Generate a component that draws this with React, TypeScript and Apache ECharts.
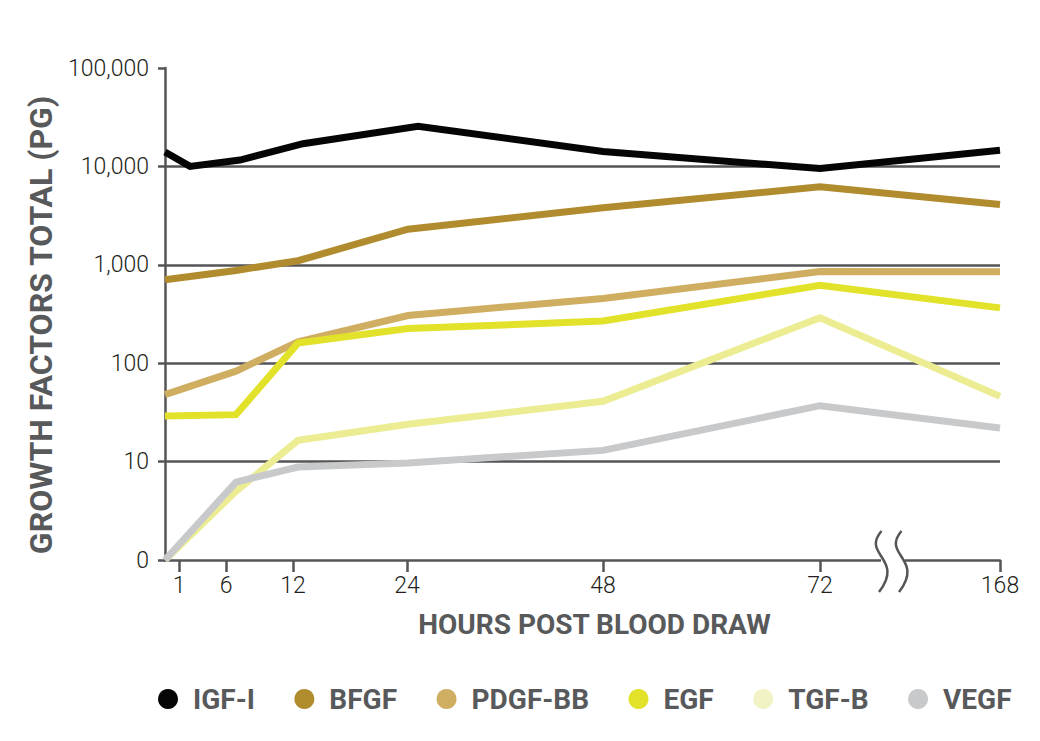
import React, { useEffect, useRef } from "react";
import * as echarts from "echarts";

// Axis positions (in axis units along the drawn time axis; the axis is broken between 72 and 168 h)
const xTickLabels = ["1", "6", "12", "24", "48", "72", "168"];
const xTickPos = [14, 61, 128, 242, 438, 655, 835];
const breakPos = 728;

// Sampling positions along the time axis: 0, 6, 12, 24, 48, 72, 168 h
const samplePos = [0, 71, 133, 243, 438, 655, 835];
const igfPos = [0, 25, 75, 138, 253, 438, 655, 835];

const seriesNames = ["IGF-I", "BFGF", "PDGF-BB", "EGF", "TGF-B", "VEGF"];
const lineColors = ["#050505", "#b08c2e", "#cfae62", "#e2e22a", "#ecec92", "#c8c9cb"];
const legendColors = ["#050505", "#b08c2e", "#cfae62", "#e2e22a", "#f2f3c4", "#c8c9cb"];

const igfValues = [14000, 10000, 11600, 17000, 25500, 14200, 9500, 14600];
const bfgfValues = [705, 876, 1100, 2300, 3800, 6200, 4100];
const pdgfValues = [48, 83, 165, 305, 455, 855, 850];
const egfValues = [29, 30, 160, 225, 268, 620, 365];
const tgfbValues = [1, 5, 16.5, 24, 41, 290, 46];
const vegfValues = [1, 6.2, 8.8, 9.7, 13, 37, 22];

const yMin = 1;
const yMax = 100000;

const pair = (pos: number[], vals: number[]) => vals.map((v, i) => [pos[i], v]);

export default function App() {
  const ref = useRef<HTMLDivElement>(null);

  useEffect(() => {
    if (!ref.current) return;
    const chart = echarts.init(ref.current, null, { renderer: "svg" });
    const dataSets = [
      pair(igfPos, igfValues),
      pair(samplePos, bfgfValues),
      pair(samplePos, pdgfValues),
      pair(samplePos, egfValues),
      pair(samplePos, tgfbValues),
      pair(samplePos, vegfValues),
    ];
    const axisColor = "#555557";
    chart.setOption({
      animation: false,
      backgroundColor: "#ffffff",
      grid: { left: 165, right: 40, top: 68, bottom: 181, containLabel: false },
      legend: {
        left: 153,
        top: 680,
        icon: "circle",
        itemWidth: 40,
        itemHeight: 20,
        itemGap: 39.5,
        selectedMode: false,
        data: seriesNames,
        textStyle: {
          fontFamily: "Roboto",
          fontWeight: "bold",
          fontSize: 28,
          color: "#58595b",
        },
      },
      xAxis: {
        type: "value",
        min: 0,
        max: 835,
        name: "HOURS POST BLOOD DRAW",
        nameLocation: "middle",
        nameGap: 50,
        nameTextStyle: {
          fontFamily: "Roboto",
          fontWeight: "bold",
          fontSize: 28,
          color: "#58595b",
          padding: [0, 0, 0, 24],
        },
        axisLine: { show: true, onZero: false, lineStyle: { color: axisColor, width: 2.5 } },
        axisTick: {
          show: true,
          length: 12,
          customValues: xTickPos,
          lineStyle: { color: axisColor, width: 2.5 },
        },
        axisLabel: {
          customValues: xTickPos,
          margin: 14,
          fontFamily: "Roboto",
          fontWeight: 300,
          fontSize: 23,
          color: "#231f20",
          formatter: (v: number) => {
            const i = xTickPos.indexOf(Math.round(v));
            return i >= 0 ? xTickLabels[i] : "";
          },
        },
        splitLine: { show: false },
      },
      yAxis: {
        type: "log",
        logBase: 10,
        min: yMin,
        max: yMax,
        name: "GROWTH FACTORS TOTAL (PG)",
        nameLocation: "middle",
        nameGap: 108,
        nameRotate: 90,
        nameTextStyle: {
          fontFamily: "Roboto",
          fontWeight: "bold",
          fontSize: 32,
          color: "#58595b",
          padding: [0, 22, 0, 0],
        },
        axisLine: { show: true, lineStyle: { color: axisColor, width: 2.5 } },
        axisTick: { show: true, length: 7, lineStyle: { color: axisColor, width: 2.5 } },
        axisLabel: {
          margin: 16,
          fontFamily: "Roboto",
          fontWeight: 300,
          fontSize: 23,
          color: "#231f20",
          formatter: (v: number) => {
            const r = Math.round(v);
            return r <= 1 ? "0" : r.toLocaleString("en-US");
          },
        },
        splitLine: {
          show: true,
          showMinLine: false,
          showMaxLine: false,
          lineStyle: { color: axisColor, width: 2.5 },
        },
      },
      series: seriesNames.map((name, i) => ({
        name,
        type: "line",
        data: dataSets[i],
        symbol: "none",
        showSymbol: false,
        z: 3 + i,
        lineStyle: { color: lineColors[i], width: 7, join: "miter", cap: "butt" },
        itemStyle: { color: legendColors[i] },
        emphasis: { disabled: true },
      })),
    });

    const p = chart.convertToPixel({ xAxisIndex: 0, yAxisIndex: 0 }, [breakPos, yMin]) as number[];
    const cx = p[0];
    const cy = p[1];
    const curve = (x0: number) => ({
      type: "bezierCurve",
      shape: {
        x1: x0 - 1.5,
        y1: cy - 29,
        cpx1: x0 - 22,
        cpy1: cy - 5,
        cpx2: x0 + 22,
        cpy2: cy - 1.5,
        x2: x0 - 4,
        y2: cy + 32,
      },
      style: { stroke: axisColor, lineWidth: 2.5, fill: null },
      z: 100,
    });
    chart.setOption({
      graphic: [
        {
          type: "rect",
          shape: { x: cx - 12, y: cy - 4, width: 24, height: 8 },
          style: { fill: "#ffffff" },
          z: 99,
        },
        curve(cx - 10),
        curve(cx + 10),
      ],
    });

    return () => chart.dispose();
  }, []);

  return (
    <div
      ref={ref}
      style={{ position: "fixed", left: 0, top: 0, width: 1040, height: 741 }}
    />
  );
}
